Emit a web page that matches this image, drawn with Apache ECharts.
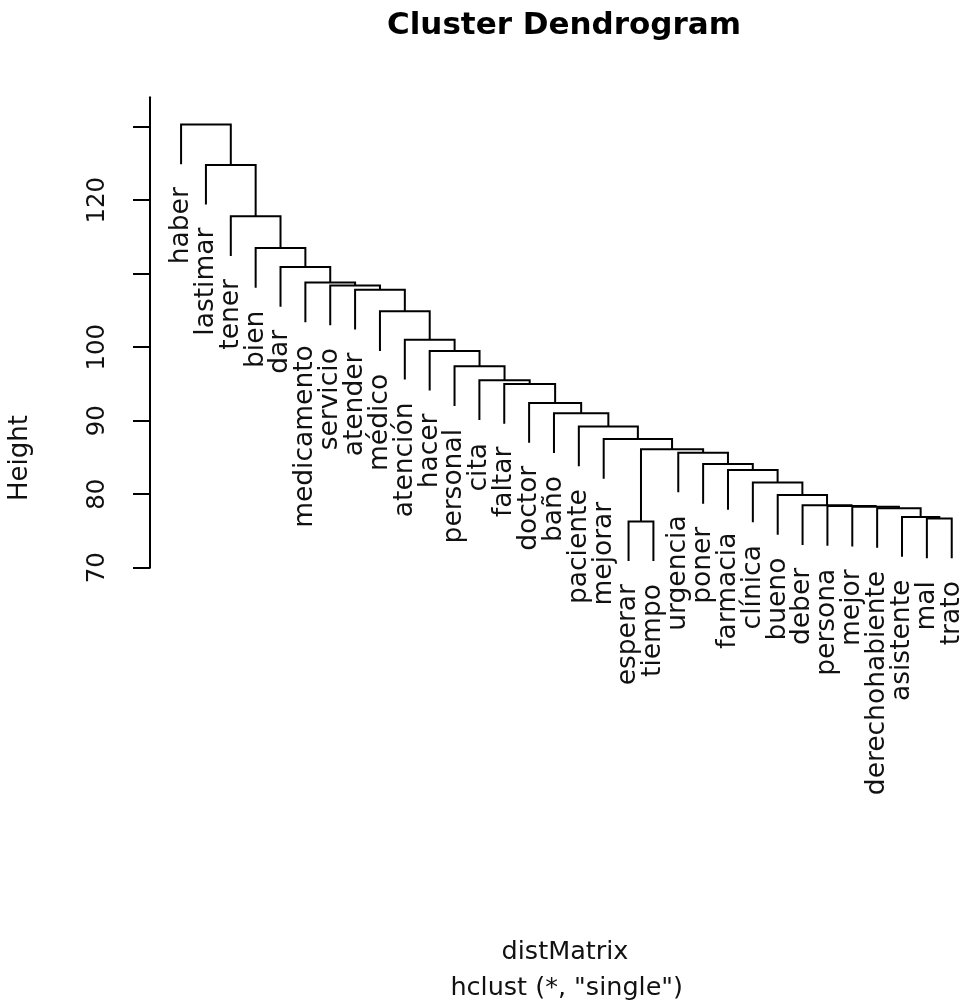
<!DOCTYPE html>
<html><head><meta charset="utf-8">
<script src="https://cdn.jsdelivr.net/npm/echarts@6/dist/echarts.min.js"></script>
<style>html,body{margin:0;padding:0;background:#fff}#c{width:961px;height:1005px}</style>
</head><body><div id="c"></div>
<script>
// Leaves in display order (left to right)
const leafLabels = ['haber','lastimar','tener','bien','dar','medicamento','servicio','atender','médico','atención','hacer','personal','cita','faltar','doctor','baño','paciente','mejorar','esperar','tiempo','urgencia','poner','farmacia','clínica','bueno','deber','persona','mejor','derechohabiente','asistente','mal','trato'];
// R-style merge matrix: negative = leaf (1-based position), positive = earlier merge step
const mergeLeft  = [-19,-31,-30,-29,-28,-27,-26,-25,-24,-23,-22,-21, 1,-18,-17,-16,-15,-14,-13,-12,-11,-10, -9, -8, -7, -6, -5, -4, -3, -2, -1];
const mergeRight = [-20,-32,  2,  3,  4,  5,  6,  7,  8,  9, 10, 11, 12, 13, 14, 15, 16, 17, 18, 19, 20, 21, 22, 23, 24, 25, 26, 27, 28, 29, 30];
const mergeHeight = [76.3,76.7,76.9,78.1,78.3,78.4,78.5,79.9,81.6,83.3,84.1,85.65,86.1,87.5,89.2,91.0,92.4,95.0,95.5,97.4,99.5,101.0,104.9,107.8,108.4,108.8,110.9,113.5,117.8,124.8,130.3];
const yTickValues = [70,80,90,100,110,120,130];
const yLabelValues = [70,80,90,100,120];
const titleText = 'Cluster Dendrogram';
const yName = 'Height';
const subLine1 = 'distMatrix';
const subLine2 = 'hclust (*, "single")';

const hang = 0.1 * (Math.max(...mergeHeight) - Math.min(...mergeHeight));
const nodeX = [];
const segs = [];
const leaves = [];
function childInfo(c, parentH) {
  if (c < 0) {
    const x = -c;
    leaves.push({ x: x, end: parentH - hang, name: leafLabels[x - 1] });
    return { x: x, bottom: parentH - hang };
  }
  return { x: nodeX[c - 1], bottom: mergeHeight[c - 1] };
}
for (let i = 0; i < mergeHeight.length; i++) {
  const h = mergeHeight[i];
  const a = childInfo(mergeLeft[i], h);
  const b = childInfo(mergeRight[i], h);
  nodeX[i] = (a.x + b.x) / 2;
  segs.push([a.x, b.x, h, a.bottom, b.bottom]);
}
leaves.sort((p, q) => p.x - q.x);

const chart = echarts.init(document.getElementById('c'), null, { renderer: 'canvas' });
chart.setOption({
  animation: false,
  backgroundColor: '#ffffff',
  grid: { left: 150, right: 4.3, top: 97.3, bottom: 437.3, containLabel: false },
  xAxis: { type: 'value', min: -0.25, max: 32.2, show: false },
  yAxis: {
    type: 'value', min: 70, max: 134, interval: 10, position: 'left',
    axisLine: { show: true, onZero: false, lineStyle: { color: '#000', width: 2 } },
    axisTick: { show: true, inside: false, length: 17, customValues: yTickValues, lineStyle: { color: '#000', width: 2 } },
    axisLabel: { show: true, rotate: 90, margin: 40, customValues: yLabelValues, color: '#111', fontFamily: 'DejaVu Sans', fontSize: 24.5 },
    splitLine: { show: false }
  },
  graphic: [
    { type: 'text', x: 564, y: 26, style: { text: titleText, font: 'bold 31px "DejaVu Sans"', fill: '#000', align: 'center', verticalAlign: 'middle' } },
    { type: 'text', x: 20, y: 458, rotation: Math.PI / 2, style: { text: yName, font: '26px "DejaVu Sans"', fill: '#111', align: 'center', verticalAlign: 'middle' } },
    { type: 'text', x: 565, y: 952, style: { text: subLine1, font: '25.5px "DejaVu Sans"', fill: '#111', align: 'center', verticalAlign: 'middle' } },
    { type: 'text', x: 566.7, y: 988, style: { text: subLine2, font: '25.5px "DejaVu Sans"', fill: '#111', align: 'center', verticalAlign: 'middle' } }
  ],
  series: [
    {
      type: 'custom', coordinateSystem: 'cartesian2d', silent: true,
      data: segs,
      encode: { x: [0, 1], y: [2, 3, 4] },
      renderItem: function (params, api) {
        const x1 = api.value(0), x2 = api.value(1), h = api.value(2);
        const b1 = api.value(3), b2 = api.value(4);
        return {
          type: 'polyline',
          shape: { points: [api.coord([x1, b1]), api.coord([x1, h]), api.coord([x2, h]), api.coord([x2, b2])] },
          style: { stroke: '#000', lineWidth: 2, fill: null }
        };
      }
    },
    {
      type: 'custom', coordinateSystem: 'cartesian2d', silent: true,
      data: leaves.map(l => [l.x, l.end]),
      encode: { x: 0, y: 1 },
      renderItem: function (params, api) {
        const p = api.coord([api.value(0), api.value(1)]);
        return {
          type: 'text', x: p[0], y: p[1] + 23, rotation: Math.PI / 2,
          style: { text: leaves[params.dataIndex].name, font: '26.5px "DejaVu Sans"', fill: '#111', align: 'right', verticalAlign: 'middle' }
        };
      }
    }
  ]
});
</script>
</body></html>
